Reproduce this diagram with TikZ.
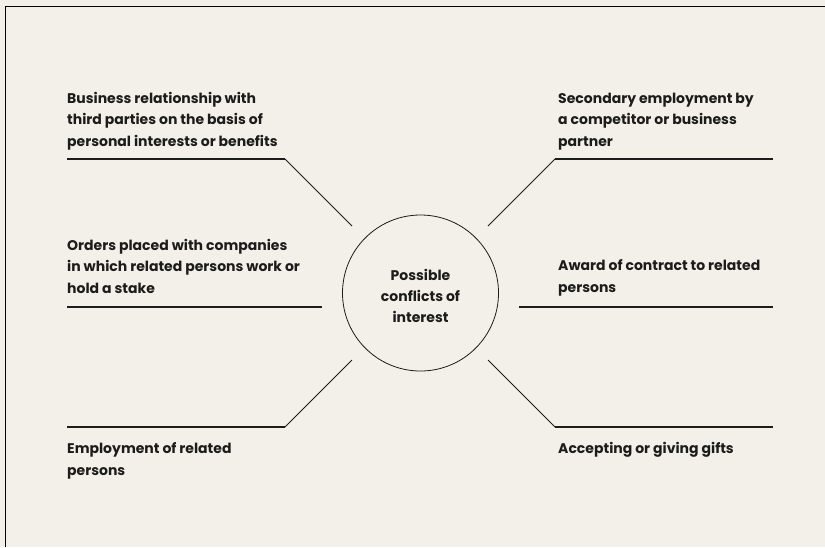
\documentclass[tikz,border=0pt]{standalone}
\usepackage{fontspec}
\setmainfont{Poppins}
\definecolor{paper}{RGB}{242,240,233}
\definecolor{ink}{RGB}{28,28,28}
\tikzset{
  topic/.style={anchor=base west, align=left, inner sep=0pt, text=ink,
    font=\fontsize{14}{21.5}\selectfont\bfseries},
  rule/.style={draw=ink, line width=1.1pt},
  spoke/.style={draw=ink, line width=0.8pt}
}
\begin{document}
\begin{tikzpicture}[x=1pt,y=-1pt]
  \fill[paper] (0,0) rectangle (825,547);
  \useasboundingbox (0,0) rectangle (825,547);
  \draw[line width=1.5pt] (5.5,547) -- (5.5,6.5) -- (825,6.5);
  % centre
  \node[circle, draw=ink, line width=0.8pt, minimum size=156pt] (hub) at (420.5,293) {};
  \node[align=center, text=ink, inner sep=0pt, font=\fontsize{14}{21}\selectfont\bfseries]
        (hub text) at (420.5,296) {Possible\\conflicts of\\interest};
  % left side
  \coordinate (tl a) at (67,159);   \coordinate (tl b) at (285,159);  \coordinate (tl c) at (352,226);
  \coordinate (ml a) at (67,307);   \coordinate (ml b) at (322,307);
  \coordinate (bl a) at (67,427);   \coordinate (bl b) at (285,427);  \coordinate (bl c) at (352,360);
  % right side
  \coordinate (tr a) at (773,159);  \coordinate (tr b) at (555,159);  \coordinate (tr c) at (488,226);
  \coordinate (mr a) at (773,307);  \coordinate (mr b) at (519,307);
  \coordinate (br a) at (773,427);  \coordinate (br b) at (555,427);  \coordinate (br c) at (488,360);
  \draw[rule] (tl a) -- (tl b); \draw[spoke] (tl b) -- (tl c);
  \draw[rule] (ml a) -- (ml b);
  \draw[rule] (bl a) -- (bl b); \draw[spoke] (bl b) -- (bl c);
  \draw[rule] (tr a) -- (tr b); \draw[spoke] (tr b) -- (tr c);
  \draw[rule] (mr a) -- (mr b);
  \draw[rule] (br a) -- (br b); \draw[spoke] (br b) -- (br c);
  % labels (anchored on the last line)
  \node[topic] (tl text) at (67,146) {Business relationship with\\third parties on the basis of\\personal interests or benefits};
  \node[topic] (ml text) at (67,293) {Orders placed with companies\\in which related persons work or\\hold a stake};
  \node[topic] (bl text) at (67,475) {Employment of related\\persons};
  \node[topic] (tr text) at (558,146) {Secondary employment by\\a competitor or business\\partner};
  \node[topic] (mr text) at (558,292) {Award of contract to related\\persons};
  \node[topic] (br text) at (558,453) {Accepting or giving gifts};
\end{tikzpicture}
\end{document}
